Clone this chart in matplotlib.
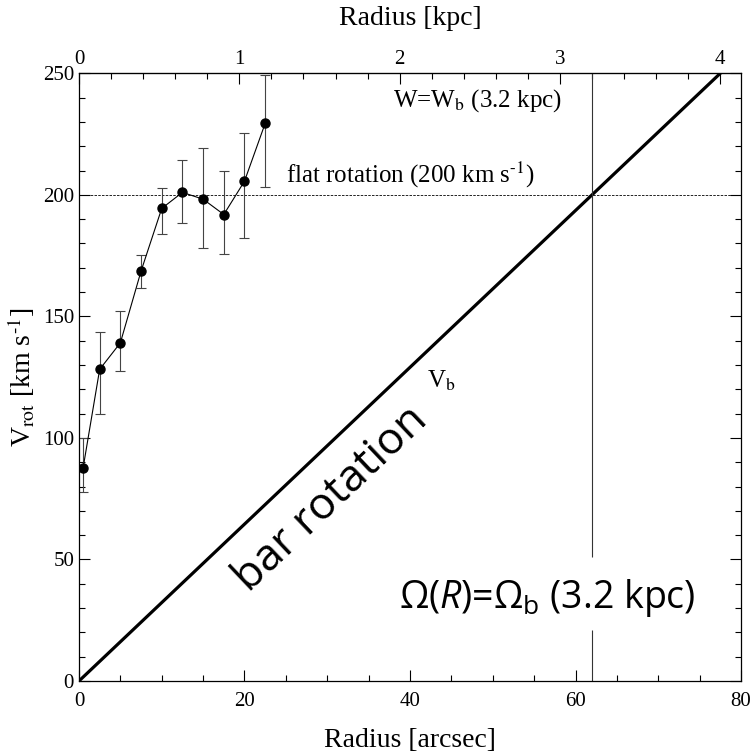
import numpy as np
import matplotlib
matplotlib.use("Agg")
import matplotlib.pyplot as plt
from matplotlib.ticker import MultipleLocator, FixedLocator

# rotation curve data
radius_arcsec = [0.5, 2.5, 5.0, 7.5, 10.0, 12.5, 15.0, 17.5, 20.0, 22.5]
v_rot = [87.7, 128.2, 139.1, 168.6, 194.4, 201.0, 198.2, 191.9, 205.6, 229.4]
err_lo = [10.0, 18.5, 11.6, 6.8, 10.7, 12.4, 20.0, 16.4, 23.5, 26.0]
err_hi = [12.1, 15.2, 13.2, 6.6, 8.5, 13.5, 20.9, 17.7, 19.9, 19.8]

kpc_ticks = [0, 1, 2, 3, 4]
arcsec_per_kpc = 19.375
r_corot = 62.0          # 3.2 kpc in arcsec
v_flat = 200.0
bar_x = [0.0, 80.0]
bar_y = [0.0, 80.0 * v_flat / r_corot]

plt.rcParams["font.family"] = ["Liberation Serif", "DejaVu Serif"]
plt.rcParams["mathtext.fontset"] = "custom"
plt.rcParams["mathtext.rm"] = "Open Sans"
plt.rcParams["mathtext.it"] = "Open Sans:italic"
plt.rcParams["mathtext.bf"] = "Open Sans:bold"

fig = plt.figure(figsize=(7.55, 7.53), dpi=100)
ax = fig.add_axes([0.1046, 0.0956, 0.9815 - 0.1046, 0.9027 - 0.0956])

ax.plot(bar_x, bar_y, color="black", lw=2.3, solid_capstyle="butt")
ax.axhline(v_flat, color="black", lw=0.6, ls=(0, (3, 1.5)))
ax.vlines(r_corot, 51, 250, color="#333333", lw=0.8)
ax.vlines(r_corot, 0, 21, color="#333333", lw=0.8)

ax.errorbar(radius_arcsec, v_rot, yerr=[err_lo, err_hi], fmt="o-", color="black",
            ms=6.5, lw=0.8, ecolor="#444444", elinewidth=0.8, capsize=3.5,
            capthick=0.8)

ax.set_xlim(0, 80)
ax.set_ylim(0, 250)
ax.xaxis.set_major_locator(MultipleLocator(20))
ax.xaxis.set_minor_locator(MultipleLocator(5))
ax.yaxis.set_major_locator(MultipleLocator(50))
ax.yaxis.set_minor_locator(MultipleLocator(10))
ax.tick_params(which="both", direction="in", right=True, labelsize=15)
ax.tick_params(which="major", length=8, width=0.8)
ax.tick_params(which="minor", length=4, width=0.8)
ax.tick_params(axis="x", pad=8)
for s in ax.spines.values():
    s.set_linewidth(0.9)

top = ax.secondary_xaxis("top", functions=(lambda x: x / arcsec_per_kpc,
                                           lambda k: k * arcsec_per_kpc))
top.xaxis.set_major_locator(FixedLocator(kpc_ticks))
top.xaxis.set_minor_locator(MultipleLocator(0.2))
top.tick_params(which="both", direction="in", labelsize=15, pad=3)
top.tick_params(which="major", length=8, width=0.8)
top.tick_params(which="minor", length=4, width=0.8)
top.set_xlabel("Radius [kpc]", fontsize=20, labelpad=18)

ax.set_xlabel("Radius [arcsec]", fontsize=20, labelpad=12)
ax.set_ylabel(r"V$_{\rm rot}$ [km s$^{\text{-1}}$]", fontsize=20, labelpad=4,
              math_fontfamily="stix")

ax.text(37.9, 236.2, r"W=W$_{\rm b}$ (3.2 kpc)", fontsize=18, ha="left",
        va="baseline", math_fontfamily="stix")
ax.text(25.0, 204.9, r"flat rotation (200 km s$^{\text{-1}}$)", fontsize=18,
        ha="left", va="baseline", math_fontfamily="stix")
ax.text(42.1, 120.5, r"V$_{\rm b}$", fontsize=18, ha="left", va="baseline",
        math_fontfamily="stix")

ax.text(30.5, 74.8, "bar rotation", fontsize=32, family=["Open Sans", "DejaVu Sans"],
        rotation=43.5, rotation_mode="anchor", ha="center", va="center")
ax.text(56.6, 34.0, "Ω(" + r"$\mathit{R}$" + ")=Ω" + r"$_{\mathrm{b}}$" + " (3.2 kpc)",
        fontsize=27, family=["Open Sans", "DejaVu Sans"], ha="center", va="center")

fig.savefig("out.png", dpi=100)
